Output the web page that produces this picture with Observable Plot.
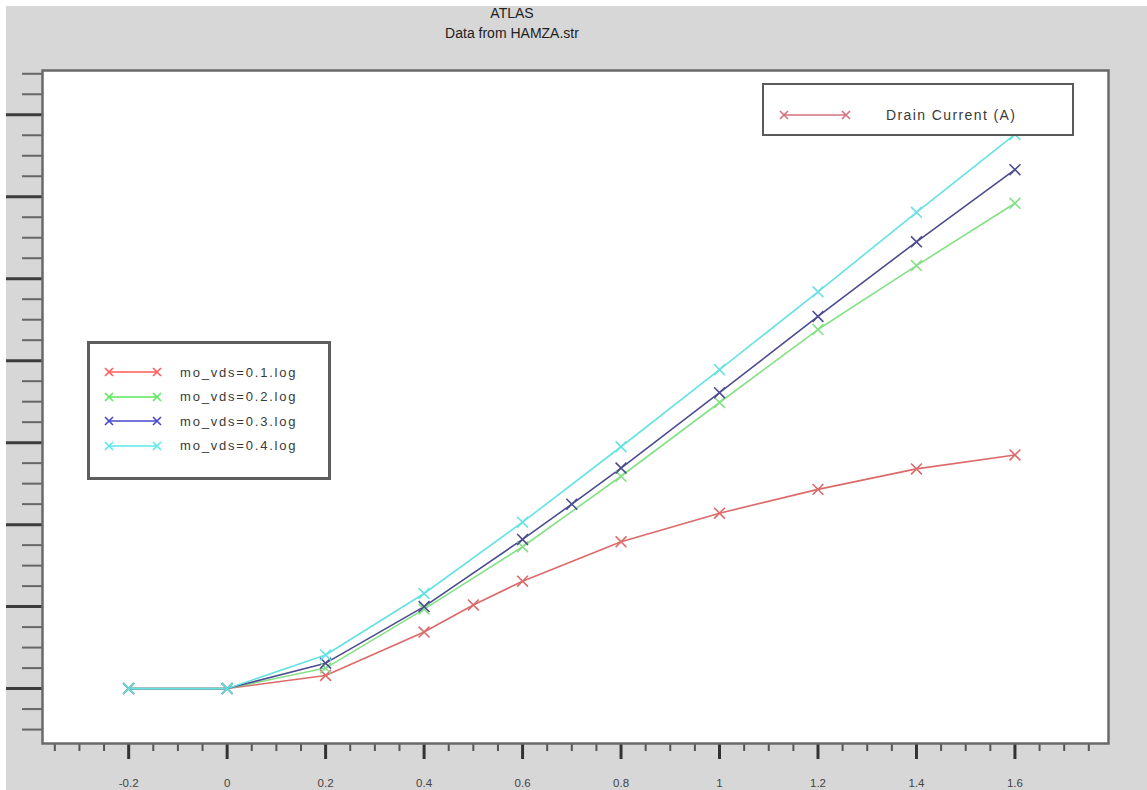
<!DOCTYPE html>
<html>
<head>
<meta charset="utf-8">
<script src="https://cdn.jsdelivr.net/npm/d3@7"></script>
<script src="https://cdn.jsdelivr.net/npm/@observablehq/plot@0.6"></script>
<style>
  html, body { margin: 0; padding: 0; background: #ffffff; width: 1147px; height: 790px; overflow: hidden; font-family: "Liberation Sans", Arial, sans-serif; }
  #panel { position: absolute; left: 6px; top: 6px; width: 1141px; height: 784px; background: #d7d7d7; }
  #title { position: absolute; left: 0; top: 3px; width: 1024px; text-align: center; font-size: 14px; line-height: 20px; color: #222; }
  #chart { position: absolute; left: 0; top: 60px; }
  .legbox { position: absolute; background: #fff; box-sizing: border-box; }
  .legbox .row { position: absolute; height: 20px; display: flex; align-items: center; color: #3a3a3a; white-space: nowrap; }
</style>
</head>
<body>
<div id="panel"></div>
<div id="title"><div>ATLAS</div><div>Data from HAMZA.str</div></div>
<div id="chart"></div>
<div id="leg1" class="legbox" style="left:762px;top:83px;width:312px;height:53px;border:2px solid #5a5a5a;"></div>
<div id="leg2" class="legbox" style="left:87px;top:341px;width:244px;height:139px;border:3px solid #5e5e5e;"></div>
<script>
// ---- data (y in units of one major tick of the unlabeled y axis) ----
const seriesNames = ["mo_vds=0.1.log", "mo_vds=0.2.log", "mo_vds=0.3.log", "mo_vds=0.4.log"];
const lineColors  = ["#dc6a6a", "#86e086", "#4c4c90", "#66e2e2"];
const legendColors = ["#ff5a5a", "#5ae85a", "#4646cc", "#5ae8e8"];

const x1 = [-0.2, 0, 0.2, 0.4, 0.5, 0.6, 0.8, 1.0, 1.2, 1.4, 1.6];
const y1 = [0, 0, 0.16, 0.69, 1.02, 1.31, 1.79, 2.14, 2.43, 2.68, 2.85];

const x2 = [-0.2, 0, 0.2, 0.4, 0.6, 0.8, 1.0, 1.2, 1.4, 1.6];
const y2 = [0, 0, 0.25, 0.97, 1.73, 2.59, 3.49, 4.38, 5.16, 5.92];

const x3 = [-0.2, 0, 0.2, 0.4, 0.6, 0.7, 0.8, 1.0, 1.2, 1.4, 1.6];
const y3 = [0, 0, 0.31, 1.0, 1.82, 2.25, 2.69, 3.61, 4.54, 5.45, 6.33];

const x4 = [-0.2, 0, 0.2, 0.4, 0.6, 0.8, 1.0, 1.2, 1.4, 1.6];
const y4 = [0, 0, 0.41, 1.16, 2.03, 2.95, 3.89, 4.84, 5.81, 6.76];

const xMajorTicks = [-0.2, 0, 0.2, 0.4, 0.6, 0.8, 1, 1.2, 1.4, 1.6];
const xTickLabels = ["-0.2", "0", "0.2", "0.4", "0.6", "0.8", "1", "1.2", "1.4", "1.6"];
const yMajorTicks = [0, 1, 2, 3, 4, 5, 6, 7];
const xDomain = [-0.375, 1.79];
const yDomain = [-0.67, 7.54];
const topLegendLabel = "Drain Current (A)";
const topLegendColor = "#d4707e";

// ---- build table ----
const xsAll = [x1, x2, x3, x4], ysAll = [y1, y2, y3, y4];
const rows = [];
seriesNames.forEach((s, i) => xsAll[i].forEach((x, j) => rows.push({series: s, x, y: ysAll[i][j]})));

const xMinor = d3.range(-0.35, 1.79, 0.05).map(v => Math.round(v * 100) / 100).filter(v => !xMajorTicks.some(m => Math.abs(m - v) < 1e-6));
const yMinor = d3.range(-0.5, 7.54, 0.25).filter(v => Math.abs(v - Math.round(v)) > 1e-6);

const plot = Plot.plot({
  width: 1147,
  height: 730,
  marginLeft: 42,
  marginRight: 39,
  marginTop: 10,
  marginBottom: 47,
  style: {background: "transparent", fontFamily: "Liberation Sans, Arial, sans-serif"},
  x: {domain: xDomain, label: null},
  y: {domain: yDomain, label: null},
  color: {domain: seriesNames, range: lineColors},
  marks: [
    Plot.frame({fill: "white", stroke: "none"}),
    Plot.axisY({ticks: yMinor, tickSize: 20, tickFormat: () => "", stroke: "#666", strokeWidth: 2}),
    Plot.axisY({ticks: yMajorTicks, tickSize: 36, tickFormat: () => "", stroke: "#3c3c3c", strokeWidth: 3}),
    Plot.axisX({ticks: xMinor, tickSize: 8, tickFormat: () => "", stroke: "#555", strokeWidth: 2}),
    Plot.axisX({ticks: xMajorTicks, tickSize: 16, tickPadding: 19, stroke: "#333", strokeWidth: 3,
      tickFormat: (d, i) => xTickLabels[i], fontSize: 11.5, fill: "#444"}),
    Plot.line(rows, {x: "x", y: "y", z: "series", stroke: "series", strokeWidth: 1.6}),
    Plot.dot(rows, {x: "x", y: "y", stroke: "series", symbol: "times", r: 5, strokeWidth: 1.6}),
    Plot.frame({stroke: "#6a6a6a", strokeWidth: 2.5})
  ]
});
document.getElementById("chart").appendChild(plot);

// ---- legends ----
function sym(color, w) {
  return `<svg width="${w}" height="14" style="overflow:visible">
    <line x1="4" y1="7" x2="${w - 4}" y2="7" stroke="${color}" stroke-width="1.6"/>
    <path d="M0,3L8,11M0,11L8,3" stroke="${color}" stroke-width="1.6"/>
    <path d="M${w - 8},3L${w},11M${w - 8},11L${w},3" stroke="${color}" stroke-width="1.6"/>
  </svg>`;
}
const leg1 = document.getElementById("leg1");
leg1.innerHTML = `<div class="row" style="left:16px;top:20px;font-size:14px;letter-spacing:1.4px;">${sym(topLegendColor, 70)}<span style="margin-left:36px">${topLegendLabel}</span></div>`;

const leg2 = document.getElementById("leg2");
leg2.innerHTML = seriesNames.map((s, i) =>
  `<div class="row" style="left:15px;top:${18 + i * 24.5}px;font-size:13px;letter-spacing:1.8px;">${sym(legendColors[i], 56)}<span style="margin-left:19px">${s}</span></div>`
).join("");
</script>
</body>
</html>
